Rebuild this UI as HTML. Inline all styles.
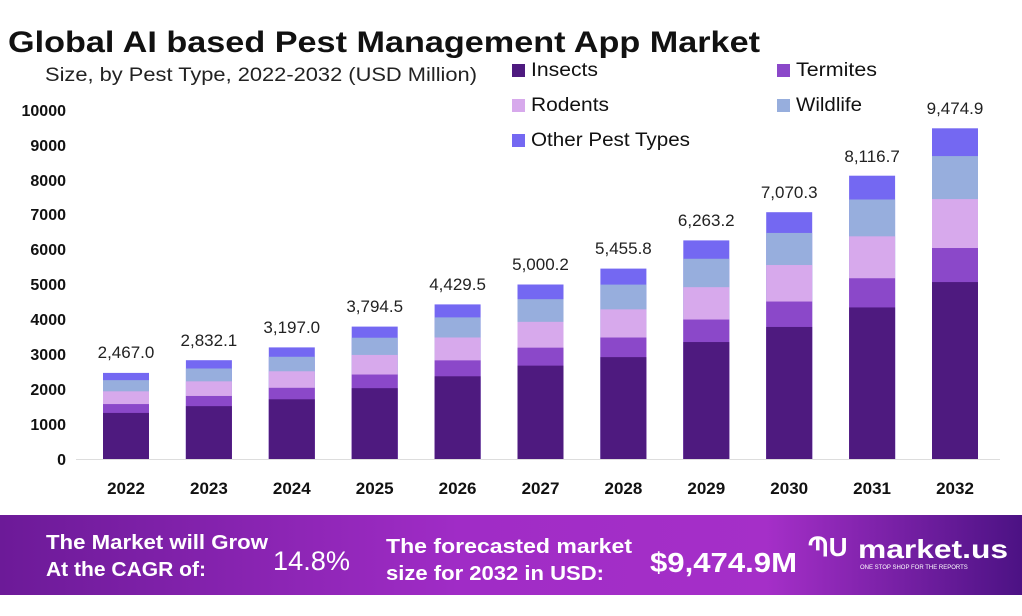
<!DOCTYPE html>
<html><head><meta charset="utf-8"><style>
body{margin:0;width:1022px;height:611px;overflow:hidden;background:#fff;font-family:"Liberation Sans",sans-serif}
</style></head><body>
<svg width="1022" height="611" xmlns="http://www.w3.org/2000/svg" font-family="Liberation Sans, sans-serif">
<defs>
<linearGradient id="bn" x1="0" x2="1" y1="0" y2="0">
<stop offset="0" stop-color="#6c1a98"/><stop offset="0.45" stop-color="#a02cc6"/><stop offset="0.75" stop-color="#a52fc8"/><stop offset="1" stop-color="#4c1284"/>
</linearGradient>
</defs>
<text x="8" y="52" font-size="30" font-weight="bold" fill="#111" textLength="752" lengthAdjust="spacingAndGlyphs">Global AI based Pest Management App Market</text>
<text x="45" y="81" font-size="19" fill="#222" textLength="432" lengthAdjust="spacingAndGlyphs">Size, by Pest Type, 2022-2032 (USD Million)</text>
<g font-size="19" fill="#111">
<rect x="512" y="64" width="13" height="13" fill="#4e1a7f"/><text x="531" y="76" textLength="67" lengthAdjust="spacingAndGlyphs">Insects</text>
<rect x="777" y="64" width="13" height="13" fill="#8b48c9"/><text x="796" y="76" textLength="81" lengthAdjust="spacingAndGlyphs">Termites</text>
<rect x="512" y="99" width="13" height="13" fill="#d7a9ec"/><text x="531" y="111" textLength="78" lengthAdjust="spacingAndGlyphs">Rodents</text>
<rect x="777" y="99" width="13" height="13" fill="#97aedd"/><text x="796" y="111" textLength="66" lengthAdjust="spacingAndGlyphs">Wildlife</text>
<rect x="512" y="134" width="13" height="13" fill="#7468f2"/><text x="531" y="146" textLength="159" lengthAdjust="spacingAndGlyphs">Other Pest Types</text>
</g>
<g font-size="16" font-weight="bold" fill="#111" text-anchor="end">
<text x="66" y="465">0</text><text x="66" y="430">1000</text><text x="66" y="395">2000</text><text x="66" y="360">3000</text><text x="66" y="325">4000</text><text x="66" y="290">5000</text><text x="66" y="255">6000</text><text x="66" y="220">7000</text><text x="66" y="186">8000</text><text x="66" y="151">9000</text><text x="66" y="116">10000</text>
</g>
<line x1="76" y1="459.5" x2="1000" y2="459.5" stroke="#ddd" stroke-width="1"/>
<g id="bars">
<g transform="translate(103,459) scale(1,-86.1)"><rect width="46" height="1" fill="#7468f2"/><rect width="46" height=".916" fill="#97aedd"/><rect width="46" height=".786" fill="#d7a9ec"/><rect width="46" height=".638" fill="#8b48c9"/><rect width="46" height=".535" fill="#4e1a7f"/></g>
<g transform="translate(185.9,459) scale(1,-98.8)"><rect width="46" height="1" fill="#7468f2"/><rect width="46" height=".916" fill="#97aedd"/><rect width="46" height=".786" fill="#d7a9ec"/><rect width="46" height=".638" fill="#8b48c9"/><rect width="46" height=".535" fill="#4e1a7f"/></g>
<g transform="translate(268.8,459) scale(1,-111.6)"><rect width="46" height="1" fill="#7468f2"/><rect width="46" height=".916" fill="#97aedd"/><rect width="46" height=".786" fill="#d7a9ec"/><rect width="46" height=".638" fill="#8b48c9"/><rect width="46" height=".535" fill="#4e1a7f"/></g>
<g transform="translate(351.7,459) scale(1,-132.4)"><rect width="46" height="1" fill="#7468f2"/><rect width="46" height=".916" fill="#97aedd"/><rect width="46" height=".786" fill="#d7a9ec"/><rect width="46" height=".638" fill="#8b48c9"/><rect width="46" height=".535" fill="#4e1a7f"/></g>
<g transform="translate(434.6,459) scale(1,-154.6)"><rect width="46" height="1" fill="#7468f2"/><rect width="46" height=".916" fill="#97aedd"/><rect width="46" height=".786" fill="#d7a9ec"/><rect width="46" height=".638" fill="#8b48c9"/><rect width="46" height=".535" fill="#4e1a7f"/></g>
<g transform="translate(517.5,459) scale(1,-174.5)"><rect width="46" height="1" fill="#7468f2"/><rect width="46" height=".916" fill="#97aedd"/><rect width="46" height=".786" fill="#d7a9ec"/><rect width="46" height=".638" fill="#8b48c9"/><rect width="46" height=".535" fill="#4e1a7f"/></g>
<g transform="translate(600.4,459) scale(1,-190.4)"><rect width="46" height="1" fill="#7468f2"/><rect width="46" height=".916" fill="#97aedd"/><rect width="46" height=".786" fill="#d7a9ec"/><rect width="46" height=".638" fill="#8b48c9"/><rect width="46" height=".535" fill="#4e1a7f"/></g>
<g transform="translate(683.3,459) scale(1,-218.6)"><rect width="46" height="1" fill="#7468f2"/><rect width="46" height=".916" fill="#97aedd"/><rect width="46" height=".786" fill="#d7a9ec"/><rect width="46" height=".638" fill="#8b48c9"/><rect width="46" height=".535" fill="#4e1a7f"/></g>
<g transform="translate(766.2,459) scale(1,-246.8)"><rect width="46" height="1" fill="#7468f2"/><rect width="46" height=".916" fill="#97aedd"/><rect width="46" height=".786" fill="#d7a9ec"/><rect width="46" height=".638" fill="#8b48c9"/><rect width="46" height=".535" fill="#4e1a7f"/></g>
<g transform="translate(849.1,459) scale(1,-283.3)"><rect width="46" height="1" fill="#7468f2"/><rect width="46" height=".916" fill="#97aedd"/><rect width="46" height=".786" fill="#d7a9ec"/><rect width="46" height=".638" fill="#8b48c9"/><rect width="46" height=".535" fill="#4e1a7f"/></g>
<g transform="translate(932,459) scale(1,-330.7)"><rect width="46" height="1" fill="#7468f2"/><rect width="46" height=".916" fill="#97aedd"/><rect width="46" height=".786" fill="#d7a9ec"/><rect width="46" height=".638" fill="#8b48c9"/><rect width="46" height=".535" fill="#4e1a7f"/></g>
</g>
<g font-size="17" fill="#222" text-anchor="middle">
<text x="126" y="358">2,467.0</text><text x="208.9" y="346">2,832.1</text><text x="291.8" y="333">3,197.0</text><text x="374.7" y="312">3,794.5</text><text x="457.6" y="290">4,429.5</text><text x="540.5" y="270">5,000.2</text><text x="623.4" y="254">5,455.8</text><text x="706.3" y="226">6,263.2</text><text x="789.2" y="198">7,070.3</text><text x="872.1" y="162">8,116.7</text><text x="955" y="114">9,474.9</text>
</g>
<g font-size="17" font-weight="bold" fill="#111" text-anchor="middle">
<text x="126" y="494">2022</text><text x="208.9" y="494">2023</text><text x="291.8" y="494">2024</text><text x="374.7" y="494">2025</text><text x="457.6" y="494">2026</text><text x="540.5" y="494">2027</text><text x="623.4" y="494">2028</text><text x="706.3" y="494">2029</text><text x="789.2" y="494">2030</text><text x="872.1" y="494">2031</text><text x="955" y="494">2032</text>
</g>
<rect x="0" y="515" width="1022" height="80" fill="url(#bn)"/>
<g fill="#fff" font-weight="bold">
<text x="46" y="549" font-size="20" textLength="222" lengthAdjust="spacingAndGlyphs">The Market will Grow</text>
<text x="46" y="576" font-size="20" textLength="160" lengthAdjust="spacingAndGlyphs">At the CAGR of:</text>
<text x="273" y="570" font-size="27" font-weight="normal" textLength="77" lengthAdjust="spacingAndGlyphs">14.8%</text>
<text x="386" y="553" font-size="20" textLength="246" lengthAdjust="spacingAndGlyphs">The forecasted market</text>
<text x="386" y="580" font-size="20" textLength="218" lengthAdjust="spacingAndGlyphs">size for 2032 in USD:</text>
<text x="650" y="572" font-size="28" textLength="147" lengthAdjust="spacingAndGlyphs">$9,474.9M</text>
<text x="808" y="556" font-size="26">ՊU</text>
<text x="858" y="558" font-size="26" textLength="150" lengthAdjust="spacingAndGlyphs">market.us</text>
<text x="860" y="569" font-size="6" font-weight="normal">ONE STOP SHOP FOR THE REPORTS</text>
</g>
</svg>
</body></html>
